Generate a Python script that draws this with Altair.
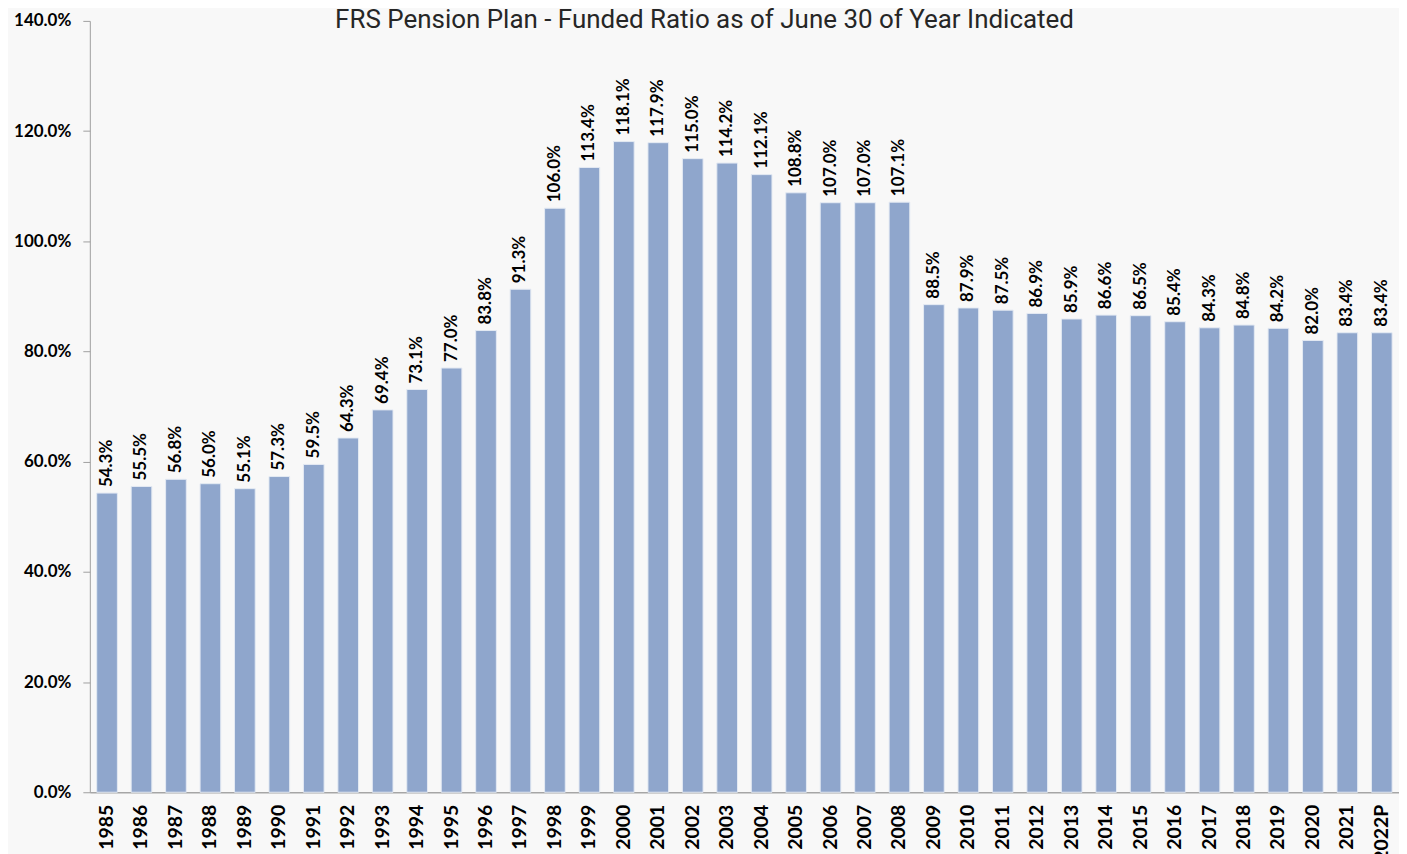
import altair as alt
import pandas as pd

years = ["1985", "1986", "1987", "1988", "1989", "1990", "1991", "1992", "1993", "1994",
         "1995", "1996", "1997", "1998", "1999", "2000", "2001", "2002", "2003", "2004",
         "2005", "2006", "2007", "2008", "2009", "2010", "2011", "2012", "2013", "2014",
         "2015", "2016", "2017", "2018", "2019", "2020", "2021", "2022P"]
funded_pct = [54.3, 55.5, 56.8, 56.0, 55.1, 57.3, 59.5, 64.3, 69.4, 73.1,
              77.0, 83.8, 91.3, 106.0, 113.4, 118.1, 117.9, 115.0, 114.2, 112.1,
              108.8, 107.0, 107.0, 107.1, 88.5, 87.9, 87.5, 86.9, 85.9, 86.6,
              86.5, 85.4, 84.3, 84.8, 84.2, 82.0, 83.4, 83.4]
y_ticks = [0.0, 0.2, 0.4, 0.6, 0.8, 1.0, 1.2, 1.4]
title_text = "FRS Pension Plan - Funded Ratio as of June 30 of Year Indicated"

df = pd.DataFrame({"year": years, "ratio": [v / 100 for v in funded_pct]})

LABEL_FONT = "Lato"

x = alt.X("year:N", sort=years, title=None,
          scale=alt.Scale(paddingInner=0.4, paddingOuter=0.2),
          axis=alt.Axis(labelAngle=270, labelAlign="right", labelBaseline="middle",
                        labelFont=LABEL_FONT, labelFontWeight="bold", labelFontSize=19.5,
                        labelColor="#000", labelPadding=12, ticks=False,
                        domainColor="#A6A6A6", domainWidth=1.5))
y = alt.Y("ratio:Q", title=None,
          scale=alt.Scale(domain=[0, 1.4], nice=False),
          axis=alt.Axis(values=y_ticks, format=".1%", grid=False,
                        labelFont=LABEL_FONT, labelFontWeight="bold", labelFontSize=17,
                        labelColor="#000", labelPadding=12, tickSize=7,
                        tickColor="#A0A0A0", domainColor="#A0A0A0"))

base = alt.Chart(df)
bars = base.mark_bar(color="#8FA6CC", stroke="#E4EAF3", strokeWidth=1).encode(x=x, y=y)
labels = base.mark_text(angle=270, align="left", baseline="middle", dx=6,
                        font=LABEL_FONT, fontWeight="bold", fontSize=17,
                        color="#000").encode(
    x=alt.X("year:N", sort=years),
    y="ratio:Q",
    text=alt.Text("ratio:Q", format=".1%"))

chart = (bars + labels).properties(
    width=1312, height=773,
    background="#F8F8F8",
    padding={"left": 82, "top": 12, "right": 0, "bottom": 80},
    autosize=alt.AutoSizeParams(type="none"),
    title=alt.TitleParams(title_text, font="Roboto", fontSize=26, fontWeight="normal",
                          color="#262626", anchor="middle", dx=-40, dy=25),
).configure_view(stroke=None)

chart.save("out.html", embed_options={"renderer": "svg", "actions": False})
